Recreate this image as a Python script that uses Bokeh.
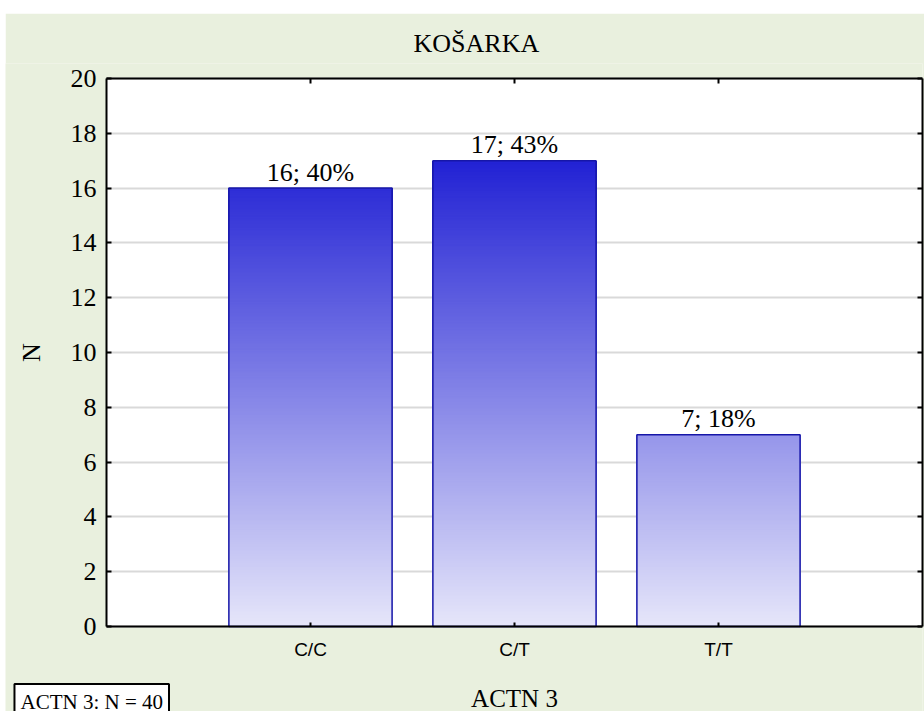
from bokeh.plotting import figure
from bokeh.models import Range1d, FixedTicker, LinearAxis, Label, Spacer
from bokeh.layouts import column, row
from bokeh.embed import file_html
from bokeh.resources import INLINE
from bokeh.core.properties import value

# ---- data ----
categories = ["C/C", "C/T", "T/T"]
counts = [16, 17, 7]
y_ticks = [0, 2, 4, 6, 8, 10, 12, 14, 16, 18, 20]
chart_title = "KOŠARKA"
x_title = "ACTN 3"
y_title = "N"
note_text = "ACTN 3: N = 40"

total = sum(counts)
xs = [i + 1 for i in range(len(categories))]
labels = [f"{c}; {int(c * 100 / total + 0.5)}%" for c in counts]

SERIF = "Liberation Serif"
SANS = "Liberation Sans"
BG = "#E9F0DE"

# plot-area extents (data) and the extra room shown around it
x_lo, x_hi = 0, len(categories) + 1
y_lo, y_hi = 0, y_ticks[-1]
x_view_lo = -0.495
y_view_lo, y_view_hi = -3.102, 20.547

p = figure(width=919, height=698, output_backend="svg", toolbar_location=None,
           x_range=Range1d(x_view_lo, x_hi), y_range=Range1d(y_view_lo, y_view_hi),
           min_border_left=0, min_border_right=2, min_border_top=50, min_border_bottom=0,
           background_fill_color=BG, border_fill_color=BG,
           x_axis_location=None, y_axis_location=None)
p.outline_line_color = None

# white plot area
p.quad(left=[x_lo], right=[x_hi], bottom=[y_lo], top=[y_hi],
       fill_color="white", line_color=None, level="image")

# gradient colour as a function of the y value
top_rgb = (34, 34, 212)
bot_rgb = (230, 230, 250)
gmax = max(counts)

def shade(y):
    t = min(max(y / gmax, 0), 1)
    r, g, b = (int(round(bot_rgb[k] + (top_rgb[k] - bot_rgb[k]) * t)) for k in range(3))
    return f"#{r:02x}{g:02x}{b:02x}"

step = 0.05
lefts, rights, bottoms, tops, colors = [], [], [], [], []
for x, c in zip(xs, counts):
    n = int(round(c / step))
    for k in range(n):
        b = k * step
        lefts.append(x - 0.4)
        rights.append(x + 0.4)
        bottoms.append(b)
        tops.append(c)
        colors.append(shade(b + step / 2))

# grid lines
grid_color = "#d9d9d9"
p.xgrid.grid_line_color = None
p.ygrid.ticker = FixedTicker(ticks=y_ticks)
p.ygrid.bounds = (y_lo, y_hi)
p.ygrid.grid_line_color = grid_color
p.ygrid.grid_line_width = 2
try:
    p.ygrid.cross_bounds = (x_lo, x_hi)
except AttributeError:
    p.ygrid.grid_line_color = None
    p.segment(x0=[x_lo] * len(y_ticks), x1=[x_hi] * len(y_ticks), y0=y_ticks, y1=y_ticks,
              line_color=grid_color, line_width=2, level="underlay")

p.quad(left=lefts, right=rights, bottom=bottoms, top=tops, fill_color=colors, line_color=None)
p.vbar(x=xs, top=counts, width=0.8, fill_color=None, line_color="#1616a8", line_width=1.5)

p.text(x=xs, y=counts, text=labels, text_align="center", text_baseline="alphabetic",
       y_offset=-16, text_font=value(SERIF), text_font_size="26px", text_color="black")

# axes
def style_axis(ax):
    ax.axis_line_color = "black"
    ax.axis_line_width = 2
    ax.major_tick_line_color = "black"
    ax.major_tick_line_width = 2
    ax.major_tick_in = 5
    ax.major_tick_out = 0
    ax.minor_tick_line_color = None
    ax.major_label_text_color = "black"
    ax.axis_label_text_color = "black"

yl = LinearAxis(ticker=FixedTicker(ticks=y_ticks), axis_label=y_title,
                fixed_location=x_lo, bounds=(y_lo, y_hi))
style_axis(yl)
yl.major_label_text_font = SERIF
yl.major_label_text_font_size = "26px"
yl.major_label_standoff = 10
yl.axis_label_text_font = SERIF
yl.axis_label_text_font_size = "26px"
yl.axis_label_text_font_style = "normal"
yl.axis_label_standoff = 22
p.add_layout(yl, "left")

yr = LinearAxis(ticker=FixedTicker(ticks=y_ticks), bounds=(y_lo, y_hi),
                major_label_overrides={t: "" for t in y_ticks})
style_axis(yr)
yr.major_label_standoff = 0
p.add_layout(yr, "right")

xb = LinearAxis(ticker=FixedTicker(ticks=xs), axis_label=x_title,
                fixed_location=y_lo, bounds=(x_lo, x_hi),
                major_label_overrides={x: c for x, c in zip(xs, categories)})
style_axis(xb)
xb.major_tick_in = 4
xb.major_label_text_font = SANS
xb.major_label_text_font_size = "19px"
xb.major_label_standoff = 12
xb.axis_label_text_font = SERIF
xb.axis_label_text_font_size = "25px"
xb.axis_label_text_font_style = "normal"
xb.axis_label_standoff = 22
p.add_layout(xb, "below")

xt = LinearAxis(ticker=FixedTicker(ticks=xs), fixed_location=y_hi, bounds=(x_lo, x_hi),
                major_label_overrides={x: "" for x in xs})
style_axis(xt)
xt.major_label_standoff = 0
p.add_layout(xt, "above")

p.title.text = chart_title
p.title.align = "left"
p.title.offset = 408
p.title.text_font = SERIF
p.title.text_font_size = "26px"
p.title.text_font_style = "normal"
p.title.text_color = "black"
p.title.standoff = 11

note = Label(x=-0.451, y=-2.099, text=note_text,
             text_font=SERIF, text_font_size="21px", text_baseline="top", text_color="black",
             border_line_color="black", border_line_width=2,
             background_fill_color="white", padding=6)
p.add_layout(note)

layout = column(Spacer(height=13), row(Spacer(width=5), p))
open("out.html", "w").write(file_html(layout, INLINE))
